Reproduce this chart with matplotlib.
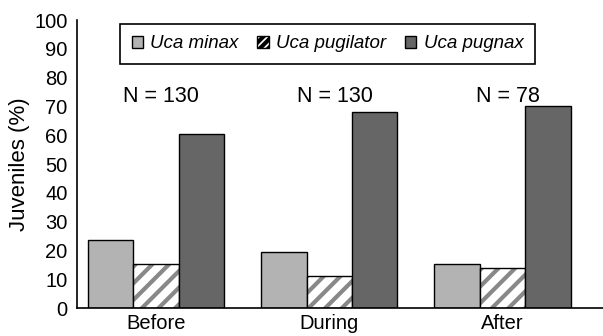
import numpy as np
import matplotlib.pyplot as plt
from matplotlib.patches import Patch

plt.rcParams['font.family'] = ['Liberation Sans', 'DejaVu Sans']
plt.rcParams['hatch.linewidth'] = 3.0

periods = ['Before', 'During', 'After']
species = ['Uca minax', 'Uca pugilator', 'Uca pugnax']
minax = [23.6, 19.6, 15.2]
pugilator = [15.2, 11.1, 14.0]
pugnax = [60.4, 68.1, 70.1]
n_labels = ['N = 130', 'N = 130', 'N = 78']

fig = plt.figure(figsize=(6.03, 3.36), dpi=100)
ax = fig.add_axes([0.128, 0.083, 0.872, 0.857])

x = np.arange(len(periods))
w = 0.262

ax.bar(x - w, minax, w, color='#b3b3b3', edgecolor='black', linewidth=1)
# hatch drawn in grey, then black outline on top
ax.bar(x, pugilator, w, color='white', edgecolor='#888888', hatch='//', linewidth=0)
ax.bar(x, pugilator, w, color='none', edgecolor='black', linewidth=1)
ax.bar(x + w, pugnax, w, color='#666666', edgecolor='black', linewidth=1)

for xi, lab in zip(x, n_labels):
    ax.text(xi + 0.03, 73.5, lab, ha='center', va='center', fontsize=15.5)

ax.set_xlim(-0.455, 2.58)
ax.set_ylim(0, 100)
ax.set_yticks(range(0, 101, 10))
ax.set_xticks(x)
ax.set_xticklabels(periods, fontsize=14.5)
ax.tick_params(axis='y', length=0, labelsize=14.5, pad=7)
ax.tick_params(axis='x', length=0, pad=4)
ax.spines['top'].set_visible(False)
ax.spines['right'].set_visible(False)
ax.spines['left'].set_linewidth(1.2)
ax.spines['bottom'].set_linewidth(1.2)
ax.set_ylabel('Juveniles (%)', fontsize=16, labelpad=3)

handles = [
    Patch(facecolor='#b3b3b3', edgecolor='black'),
    Patch(facecolor='white', edgecolor='black', hatch='////'),
    Patch(facecolor='#666666', edgecolor='black'),
]
leg = ax.legend(handles, species, loc='upper left', bbox_to_anchor=(0.082, 0.986),
                ncol=3, fancybox=False, edgecolor='black', framealpha=1,
                prop={'style': 'italic', 'size': 13.5}, handlelength=0.6,
                handleheight=0.6, handletextpad=0.4, columnspacing=1.0,
                borderpad=0.6, borderaxespad=0)
leg.get_frame().set_linewidth(1.2)

fig.savefig('out.png', dpi=100)
